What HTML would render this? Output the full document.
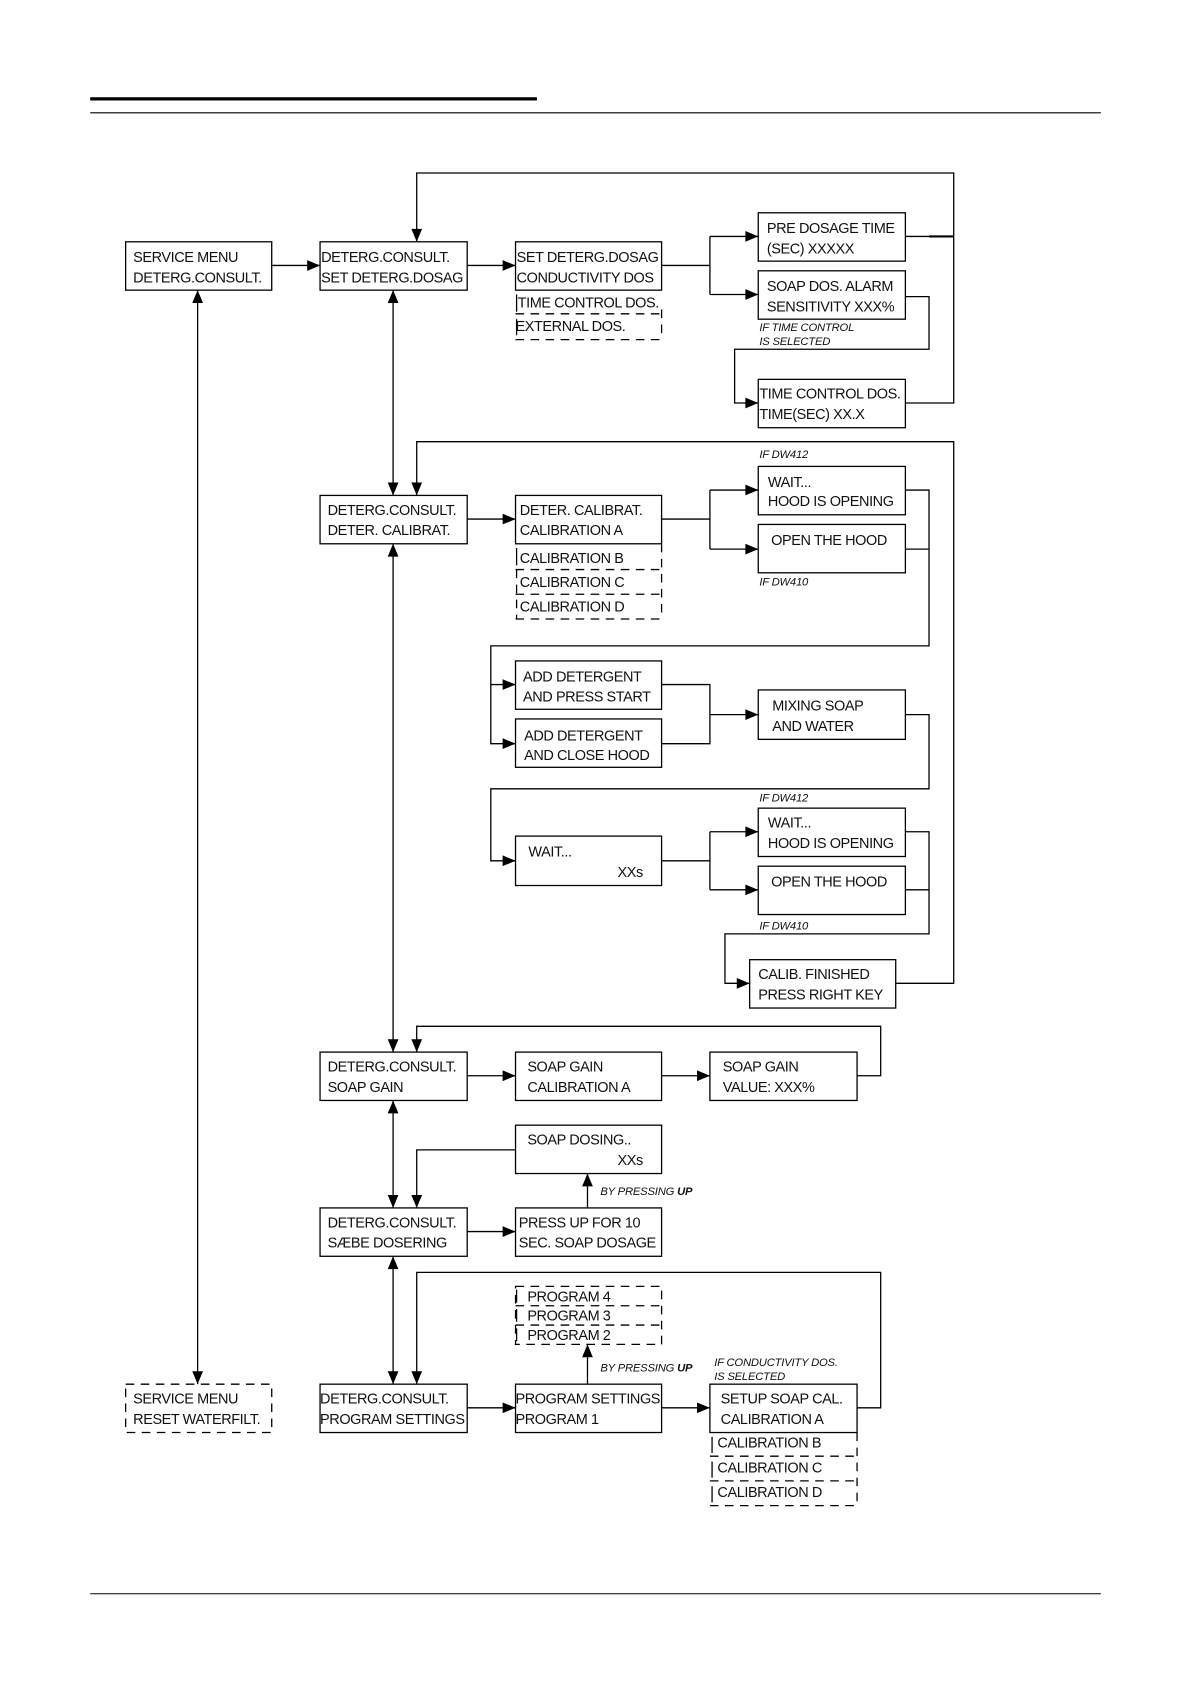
<!DOCTYPE html>
<html><head><meta charset="utf-8"><style>
html,body{margin:0;padding:0;background:#fff;}
svg{display:block;}
text{font-family:"Liberation Sans",Arial,sans-serif;font-size:13.5px;letter-spacing:-0.4px;fill:#111;}
.s{font-size:10.5px;font-style:italic;letter-spacing:-0.2px;}
</style></head><body>
<svg width="1190" height="1684" viewBox="0 0 1108 1567" preserveAspectRatio="none" xmlns="http://www.w3.org/2000/svg">
<g stroke="#000" fill="none" stroke-width="1.2">
<line x1="84" y1="92" x2="500" y2="92" stroke-width="3"/>
<line x1="84" y1="105" x2="1025" y2="105" stroke-width="1"/>
<line x1="84" y1="1483" x2="1025" y2="1483" stroke-width="1"/>
<rect x="117" y="225" width="136" height="45"/>
<rect x="298" y="225" width="137" height="45"/>
<rect x="480" y="225" width="136" height="45"/>
<rect x="706" y="198" width="137" height="45"/>
<rect x="706" y="252" width="137" height="45"/>
<rect x="706" y="353" width="137" height="45"/>
<rect x="298" y="461" width="137" height="45"/>
<rect x="480" y="461" width="136" height="45"/>
<rect x="706" y="434" width="137" height="45"/>
<rect x="706" y="488" width="137" height="45"/>
<rect x="480" y="615" width="136" height="45"/>
<rect x="480" y="669" width="136" height="45"/>
<rect x="706" y="642" width="137" height="46"/>
<rect x="480" y="778" width="136" height="46"/>
<rect x="706" y="752" width="137" height="45"/>
<rect x="706" y="806" width="137" height="45"/>
<rect x="698" y="893" width="136" height="45"/>
<rect x="298" y="979" width="137" height="45"/>
<rect x="480" y="979" width="136" height="45"/>
<rect x="661" y="979" width="137" height="45"/>
<rect x="480" y="1047" width="136" height="45"/>
<rect x="298" y="1124" width="137" height="45"/>
<rect x="480" y="1124" width="136" height="45"/>
<rect x="298" y="1288" width="137" height="45"/>
<rect x="480" y="1288" width="136" height="45"/>
<rect x="661" y="1288" width="137" height="45"/>
<g stroke-dasharray="8,6">
<line x1="480" y1="292" x2="616" y2="292"/><line x1="480" y1="316" x2="616" y2="316"/><line x1="616" y1="288" x2="616" y2="316"/>
<line x1="480" y1="530" x2="616" y2="530"/><line x1="480" y1="553" x2="616" y2="553"/><line x1="480" y1="576" x2="616" y2="576"/><line x1="616" y1="506" x2="616" y2="576"/><line x1="481" y1="530" x2="481" y2="576"/>
<rect x="480" y="1197" width="136" height="54"/><line x1="480" y1="1215" x2="616" y2="1215"/><line x1="480" y1="1233" x2="616" y2="1233"/>
<line x1="661" y1="1355" x2="798" y2="1355"/><line x1="661" y1="1378" x2="798" y2="1378"/><line x1="661" y1="1401" x2="798" y2="1401"/><line x1="798" y1="1333" x2="798" y2="1401"/>
<rect x="117" y="1288" width="136" height="45"/>
</g>
<line x1="481" y1="274" x2="481" y2="290"/><line x1="481" y1="297" x2="481" y2="312"/>
<line x1="481" y1="510" x2="481" y2="526"/><line x1="663" y1="1337" x2="663" y2="1352"/><line x1="663" y1="1360" x2="663" y2="1375"/><line x1="663" y1="1383" x2="663" y2="1398"/>
<line x1="481" y1="1200" x2="481" y2="1212"/><line x1="481" y1="1218" x2="481" y2="1230"/><line x1="481" y1="1236" x2="481" y2="1248"/>
<polyline points="253,247 298,247"/><polyline points="435,247 480,247"/>
<polyline points="616,247 661,247"/><polyline points="661,220 661,274"/><polyline points="661,220 706,220"/><polyline points="661,274 706,274"/>
<polyline points="843,276 865,276 865,325 684,325 684,375 706,375"/>
<polyline points="843,220 888,220"/><line x1="865" y1="220" x2="888" y2="220" stroke-width="2"/>
<polyline points="843,375 888,375 888,161 388,161 388,225"/>
<line x1="184" y1="270" x2="184" y2="1288"/>
<line x1="366" y1="270" x2="366" y2="461"/>
<polyline points="388,461 388,411 888,411 888,915 834,915"/>
<polyline points="435,483 480,483"/><polyline points="616,483 661,483"/><polyline points="661,456 661,511"/><polyline points="661,456 706,456"/><polyline points="661,511 706,511"/>
<polyline points="843,456 865,456 865,601 457,601 457,692 480,692"/><polyline points="843,511 865,511"/><polyline points="457,637 480,637"/>
<polyline points="616,637 661,637 661,692 616,692"/><polyline points="661,665 706,665"/>
<polyline points="843,665 865,665 865,734 457,734 457,801 480,801"/>
<polyline points="616,801 661,801"/><polyline points="661,774 661,828"/><polyline points="661,774 706,774"/><polyline points="661,828 706,828"/>
<polyline points="843,774 865,774 865,869 675,869 675,915 698,915"/><polyline points="843,828 865,828"/>
<line x1="366" y1="506" x2="366" y2="979"/>
<polyline points="388,979 388,955 820,955 820,1001 798,1001"/>
<polyline points="435,1001 480,1001"/><polyline points="616,1001 661,1001"/>
<line x1="366" y1="1024" x2="366" y2="1124"/>
<polyline points="480,1070 388,1070 388,1124"/>
<polyline points="435,1146 480,1146"/><line x1="547" y1="1124" x2="547" y2="1092"/>
<line x1="366" y1="1169" x2="366" y2="1288"/>
<polyline points="388,1288 388,1184 820,1184 820,1310 798,1310"/>
<polyline points="435,1310 480,1310"/><polyline points="616,1310 661,1310"/><line x1="547" y1="1288" x2="547" y2="1251"/>
</g>
<g fill="#000">
<polygon points="298,247 286,242 286,252"/><polygon points="480,247 468,242 468,252"/>
<polygon points="706,220 694,215 694,225"/><polygon points="706,274 694,269 694,279"/><polygon points="706,375 694,370 694,380"/>
<polygon points="480,483 468,478 468,488"/><polygon points="706,456 694,451 694,461"/><polygon points="706,511 694,506 694,516"/>
<polygon points="480,637 468,632 468,642"/><polygon points="480,692 468,687 468,697"/><polygon points="706,665 694,660 694,670"/>
<polygon points="480,801 468,796 468,806"/><polygon points="706,774 694,769 694,779"/><polygon points="706,828 694,823 694,833"/><polygon points="698,915 686,910 686,920"/>
<polygon points="480,1001 468,996 468,1006"/><polygon points="661,1001 649,996 649,1006"/>
<polygon points="480,1146 468,1141 468,1151"/><polygon points="480,1310 468,1305 468,1315"/><polygon points="661,1310 649,1305 649,1315"/>
<polygon points="388,225 383,213 393,213"/><polygon points="366,461 361,449 371,449"/><polygon points="388,461 383,449 393,449"/>
<polygon points="366,979 361,967 371,967"/><polygon points="388,979 383,967 393,967"/>
<polygon points="366,1124 361,1112 371,1112"/><polygon points="388,1124 383,1112 393,1112"/>
<polygon points="366,1288 361,1276 371,1276"/><polygon points="388,1288 383,1276 393,1276"/><polygon points="184,1288 179,1276 189,1276"/>
<polygon points="184,270 179,282 189,282"/><polygon points="366,270 361,282 371,282"/><polygon points="366,506 361,518 371,518"/>
<polygon points="366,1024 361,1036 371,1036"/><polygon points="366,1169 361,1181 371,1181"/>
<polygon points="547,1092 542,1104 552,1104"/><polygon points="547,1251 542,1263 552,1263"/>
</g>
<text x="124" y="244">SERVICE MENU</text><text x="124" y="263">DETERG.CONSULT.</text>
<text x="299" y="244">DETERG.CONSULT.</text><text x="299" y="263">SET DETERG.DOSAG</text>
<text x="481" y="244">SET DETERG.DOSAG</text><text x="481" y="263">CONDUCTIVITY DOS</text>
<text x="482" y="286">TIME CONTROL DOS.</text><text x="480" y="308">EXTERNAL DOS.</text>
<text x="714" y="217">PRE DOSAGE TIME</text><text x="714" y="236">(SEC) XXXXX</text>
<text x="714" y="271">SOAP DOS. ALARM</text><text x="714" y="290">SENSITIVITY XXX%</text>
<text class="s" x="707" y="308">IF TIME CONTROL</text><text class="s" x="707" y="321">IS SELECTED</text>
<text x="707" y="371">TIME CONTROL DOS.</text><text x="707" y="390">TIME(SEC) XX.X</text>
<text x="305" y="479">DETERG.CONSULT.</text><text x="305" y="498">DETER. CALIBRAT.</text>
<text x="484" y="479">DETER. CALIBRAT.</text><text x="484" y="498">CALIBRATION A</text>
<text x="484" y="524">CALIBRATION B</text><text x="484" y="546">CALIBRATION C</text><text x="484" y="569">CALIBRATION D</text>
<text class="s" x="707" y="426">IF DW412</text>
<text x="715" y="453">WAIT...</text><text x="715" y="471">HOOD IS OPENING</text>
<text x="718" y="507">OPEN THE HOOD</text>
<text class="s" x="707" y="545">IF DW410</text>
<text x="487" y="634">ADD DETERGENT</text><text x="487" y="653">AND PRESS START</text>
<text x="488" y="689">ADD DETERGENT</text><text x="488" y="707">AND CLOSE HOOD</text>
<text x="719" y="661">MIXING SOAP</text><text x="719" y="680">AND WATER</text>
<text x="492" y="797">WAIT...</text><text x="575" y="816">XXs</text>
<text class="s" x="707" y="746">IF DW412</text>
<text x="715" y="770">WAIT...</text><text x="715" y="789">HOOD IS OPENING</text>
<text x="718" y="825">OPEN THE HOOD</text>
<text class="s" x="707" y="865">IF DW410</text>
<text x="706" y="911">CALIB. FINISHED</text><text x="706" y="930">PRESS RIGHT KEY</text>
<text x="305" y="997">DETERG.CONSULT.</text><text x="305" y="1016">SOAP GAIN</text>
<text x="491" y="997">SOAP GAIN</text><text x="491" y="1016">CALIBRATION A</text>
<text x="673" y="997">SOAP GAIN</text><text x="673" y="1016">VALUE: XXX%</text>
<text x="491" y="1065">SOAP DOSING..</text><text x="575" y="1084">XXs</text>
<text class="s" x="559" y="1112">BY PRESSING <tspan font-weight="bold">UP</tspan></text>
<text x="305" y="1142">DETERG.CONSULT.</text><text x="305" y="1161">SÆBE DOSERING</text>
<text x="483" y="1142">PRESS UP FOR 10</text><text x="483" y="1161">SEC. SOAP DOSAGE</text>
<text x="491" y="1211">PROGRAM 4</text><text x="491" y="1229">PROGRAM 3</text><text x="491" y="1247">PROGRAM 2</text>
<text class="s" x="559" y="1276">BY PRESSING <tspan font-weight="bold">UP</tspan></text>
<text class="s" x="665" y="1271">IF CONDUCTIVITY DOS.</text><text class="s" x="665" y="1284">IS SELECTED</text>
<text x="124" y="1306">SERVICE MENU</text><text x="124" y="1325">RESET WATERFILT.</text>
<text x="298" y="1306">DETERG.CONSULT.</text><text x="298" y="1325">PROGRAM SETTINGS</text>
<text x="480" y="1306">PROGRAM SETTINGS</text><text x="480" y="1325">PROGRAM 1</text>
<text x="671" y="1306">SETUP SOAP CAL.</text><text x="671" y="1325">CALIBRATION A</text>
<text x="668" y="1347">CALIBRATION B</text><text x="668" y="1370">CALIBRATION C</text><text x="668" y="1393">CALIBRATION D</text>
</svg>
</body></html>
